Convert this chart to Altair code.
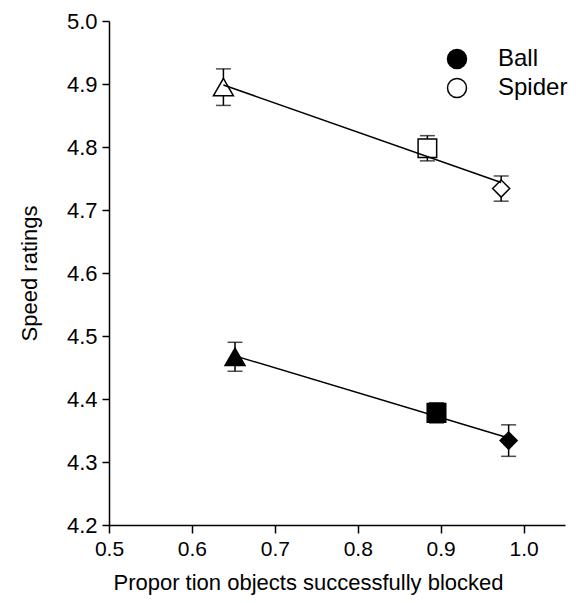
import altair as alt
import pandas as pd

# Data
groups = ["Ball", "Ball", "Ball", "Spider", "Spider", "Spider"]
conditions = ["A", "B", "C", "A", "B", "C"]
proportion = [0.652, 0.895, 0.982, 0.638, 0.884, 0.973]
speed = [4.467, 4.378, 4.334, 4.895, 4.798, 4.734]
error = [0.023, 0.016, 0.025, 0.029, 0.020, 0.020]

x_ticks = [0.5, 0.6, 0.7, 0.8, 0.9, 1.0]
y_ticks = [4.2, 4.3, 4.4, 4.5, 4.6, 4.7, 4.8, 4.9, 5.0]

df = pd.DataFrame({
    "group": groups,
    "condition": conditions,
    "proportion": proportion,
    "speed": speed,
    "err": error,
})

FONT = "Liberation Sans"

x_enc = alt.X(
    "proportion:Q",
    scale=alt.Scale(domain=[0.5, 1.05], nice=False, zero=False),
    axis=alt.Axis(
        values=x_ticks, format=".1f", title="Propor tion objects successfully blocked",
        grid=False, tickSize=8, labelPadding=5, labelFontSize=21, titleFontSize=22,
        titleFontWeight="normal", titleX=199, titleY=64, titleBaseline="alphabetic",
        titleAlign="center", labelFlush=False,
    ),
)
y_enc = alt.Y(
    "speed:Q",
    scale=alt.Scale(domain=[4.2, 5.0], nice=False, zero=False),
    axis=alt.Axis(
        values=y_ticks, format=".1f", title="Speed ratings", grid=False,
        tickSize=7, labelPadding=5, labelFontSize=22, titleFontSize=22,
        titleFontWeight="normal", titleX=-80, titleBaseline="middle",
        labelFlush=False,
    ),
)

base = alt.Chart(df)

bars = base.transform_calculate(
    lo="datum.speed - datum.err", hi="datum.speed + datum.err"
).mark_rule(color="black", strokeWidth=1.5).encode(
    x=x_enc, y=alt.Y("lo:Q"), y2="hi:Q"
)

caps_lo = base.transform_calculate(
    lo="datum.speed - datum.err"
).mark_tick(color="black", orient="horizontal", size=15, thickness=1.5).encode(
    x=x_enc, y=alt.Y("lo:Q")
)
caps_hi = base.transform_calculate(
    hi="datum.speed + datum.err"
).mark_tick(color="black", orient="horizontal", size=15, thickness=1.5).encode(
    x=x_enc, y=alt.Y("hi:Q")
)

points = base.mark_point(filled=True, opacity=1, stroke="black", strokeWidth=1.5).encode(
    x=x_enc,
    y=y_enc,
    shape=alt.Shape(
        "condition:N",
        scale=alt.Scale(domain=["A", "B", "C"], range=["triangle-up", "square", "diamond"]),
        legend=None,
    ),
    size=alt.Size(
        "condition:N",
        scale=alt.Scale(domain=["A", "B", "C"], range=[400, 290, 480]),
        legend=None,
    ),
    fill=alt.Fill(
        "group:N",
        scale=alt.Scale(domain=["Ball", "Spider"], range=["black", "white"]),
        legend=alt.Legend(
            title=None, orient="none", legendX=336, legendY=26,
            symbolType="circle", symbolSize=361, symbolStrokeColor="black",
            symbolStrokeWidth=1.5, symbolOpacity=1, labelFontSize=24,
            labelOffset=29, rowPadding=3, padding=0, labelFont=FONT,
        ),
    ),
)

lines = base.transform_regression(
    "proportion", "speed", groupby=["group"]
).mark_line(color="black", strokeWidth=1.5).encode(
    x=x_enc, y=y_enc, detail="group:N"
)

chart = alt.layer(bars, caps_lo, caps_hi, points, lines).properties(
    width=456,
    height=504,
    autosize=alt.AutoSizeParams(type="none"),
    padding={"left": 101, "top": 13, "right": 3, "bottom": 70},
).configure_view(stroke=None).configure_axis(
    domainColor="black", domainWidth=1.5, tickColor="black", tickWidth=1.5,
    labelColor="black", titleColor="black", labelFont=FONT, titleFont=FONT,
).configure_legend(labelColor="black")

chart.save("out.html", embed_options={"renderer": "svg", "actions": False})
